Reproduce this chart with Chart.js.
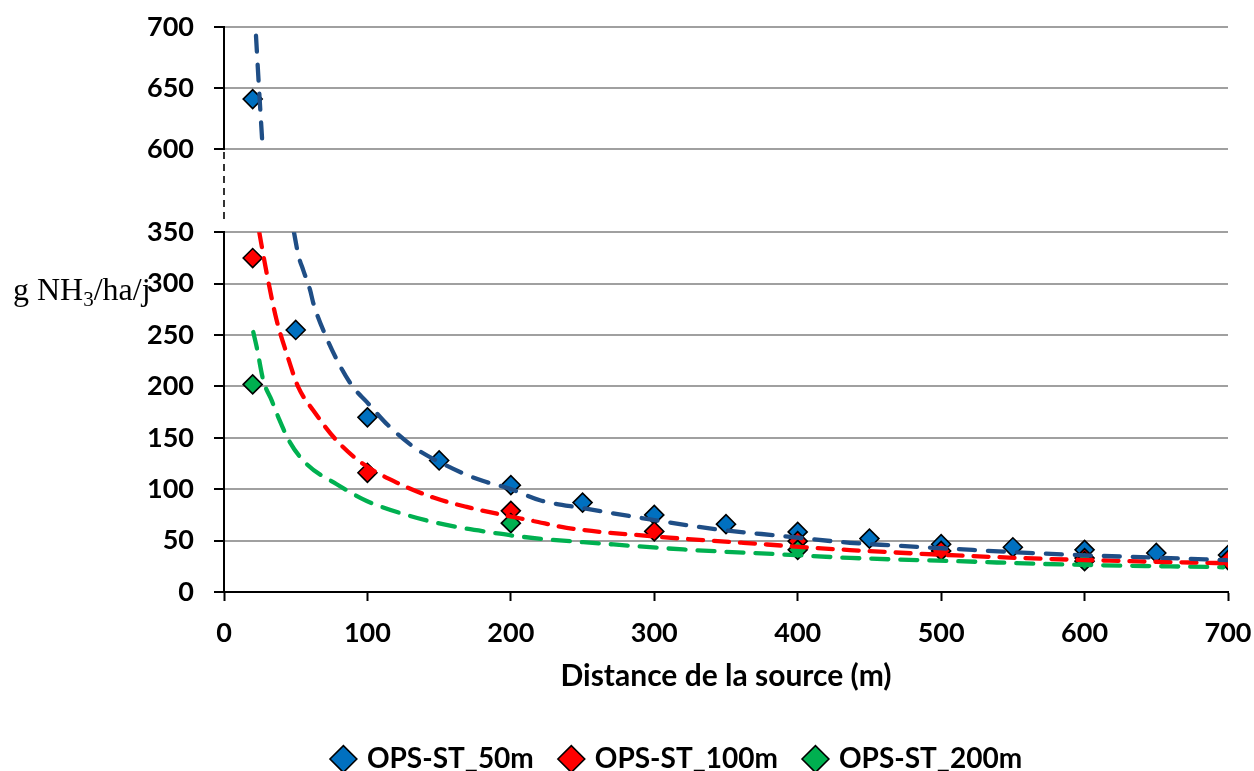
<!DOCTYPE html>
<html>
<head>
<meta charset="utf-8">
<script src="https://cdn.jsdelivr.net/npm/chart.js@4/dist/chart.umd.min.js"></script>
<style>
html,body{margin:0;padding:0;background:#fff;}
#wrap{width:1254px;height:771px;position:relative;}
canvas{display:block;}
</style>
</head>
<body>
<div id="wrap"><canvas id="c" width="1254" height="771"></canvas></div>
<script>
// ---- Data ----
const seriesNames = ['OPS-ST_50m', 'OPS-ST_100m', 'OPS-ST_200m'];
const dist50 = [20, 50, 100, 150, 200, 250, 300, 350, 400, 450, 500, 550, 600, 650, 700];
const vals50 = [641, 255, 170, 128, 104, 87, 75, 66, 58.5, 52, 46.5, 43.5, 41, 38, 36];
const dist100 = [20, 100, 200, 300, 400, 500, 600, 700];
const vals100 = [325, 116, 79, 59, 49.5, 40, 33, 31];
const dist200 = [20, 200, 400, 600];
const vals200 = [202, 67, 41, 30];

// dashed trend curves
const trend50X = [22.3, 24.4, 27, 48.8, 51.8, 55.3, 60, 62.3, 71.6, 82.1, 90.2, 99.5, 114.6, 134.4, 153, 168, 180.8, 199.4, 220.3, 250.5, 297, 343.5, 390, 436.4, 466.7, 515.5, 585.2, 654.9, 699];
const trend50Y = [693, 650, 600, 350, 328, 313, 294, 281, 247, 217, 199, 185, 162, 139, 124.5, 114.7, 108, 100.5, 89.3, 81.5, 70.7, 61, 54.4, 47.9, 45.3, 41.4, 36.5, 33.2, 31];
const trend100X = [24.6, 29.8, 36.7, 43.7, 51.8, 62.3, 78.6, 97.1, 120.4, 146, 169.2, 192.4, 215.7, 238.9, 297, 362, 413.2, 436.4, 510.8, 573.6, 673.5, 700];
const trend100Y = [350, 310, 264.5, 232, 199.3, 176.6, 147.3, 124.5, 106.5, 91.9, 82.8, 75.6, 69.1, 62.5, 54.4, 47.9, 42.8, 40.8, 35.6, 32.2, 28.7, 28];
const trend200X = [20.4, 22.8, 27.4, 33.3, 37.9, 46, 57.6, 78.6, 99.5, 129.7, 157.6, 192.4, 204, 227, 250.5, 320.2, 390, 436.4, 510.8, 585.2, 696.7];
const trend200Y = [253, 238.4, 205.9, 186.3, 170, 145.6, 124.5, 104.9, 88.6, 74, 64.5, 56.7, 54.4, 51, 48.5, 41.4, 36.5, 33.2, 30, 26.8, 24.1];

// axis ranges / ticks (broken axis: lower part and upper part)
const xTicks = [0, 100, 200, 300, 400, 500, 600, 700];
const yLowerTicks = [0, 50, 100, 150, 200, 250, 300, 350];
const yUpperTicks = [600, 650, 700];
const breakMarkX = [0, 0];          // dashed axis segment across the break
const breakMarkY = [0.16, 0.97];    // fraction of the break band
const yLabelParts = ['g NH', '3', '/ha/j'];
const xTitle = 'Distance de la source (m)';

// ---- helpers ----
const BREAK_LOW = yLowerTicks[yLowerTicks.length - 1];
const BREAK_HIGH = yUpperTicks[0];
function pts(xs, ys, pred) {
  const out = [];
  xs.forEach((x, i) => { if (!pred || pred(ys[i])) out.push({x: x, y: ys[i]}); });
  return out;
}
const isLow = v => v <= BREAK_LOW;
const isHigh = v => v >= BREAK_HIGH;

const colBlue = '#0070C0', colRed = '#FF0000', colGreen = '#00B050', colBlueLine = '#1F4E86';

function markerDs(label, data, fill, axis, order) {
  return {
    type: 'scatter', label: label, data: data, yAxisID: axis,
    pointStyle: 'rectRot', pointRadius: 9.5, pointHoverRadius: 9.5,
    backgroundColor: fill, borderColor: '#000', borderWidth: 1.6,
    showLine: false, order: order
  };
}
function trendDs(label, data, color, axis, dash, width) {
  return {
    type: 'scatter', label: label, data: data, yAxisID: axis,
    showLine: true, pointRadius: 0, pointHoverRadius: 0,
    borderColor: color, backgroundColor: color, borderWidth: width || 4.3,
    borderDash: dash, borderCapStyle: 'round',
    cubicInterpolationMode: 'monotone', fill: false, order: -1
  };
}

const fitW = s => { s.width = 96; s.paddingTop = 0; s.paddingBottom = 0; };
const tickFont = {family: 'Lato', weight: 'bold', size: 27};

const yLabelPlugin = {
  id: 'yLabel',
  afterDraw(chart) {
    const c = chart.ctx;
    c.save();
    c.fillStyle = '#000';
    c.textBaseline = 'alphabetic';
    let x = 13; const base = 300;
    c.font = '32px "Liberation Serif"';
    c.fillText(yLabelParts[0], x, base); x += c.measureText(yLabelParts[0]).width;
    c.font = '21px "Liberation Serif"';
    c.fillText(yLabelParts[1], x, base + 6); x += c.measureText(yLabelParts[1]).width;
    c.font = '32px "Liberation Serif"';
    c.fillText(yLabelParts[2], x, base);
    c.restore();
  }
};

const breakDs = trendDs('break', pts(breakMarkX, breakMarkY), '#000', 'yGap', [7, 5], 1.6);
breakDs.borderCapStyle = 'butt';
breakDs.clip = false;
breakDs.cubicInterpolationMode = 'default';

new Chart(document.getElementById('c'), {
  type: 'scatter',
  data: {
    datasets: [
      markerDs(seriesNames[0], pts(dist50, vals50, isLow), colBlue, 'y', 2),
      markerDs(seriesNames[1], pts(dist100, vals100, isLow), colRed, 'y', 1),
      markerDs(seriesNames[2], pts(dist200, vals200, isLow), colGreen, 'y', 0),
      markerDs(seriesNames[0] + ' (haut)', pts(dist50, vals50, isHigh), colBlue, 'yTop', 2),
      trendDs('t50', pts(trend50X, trend50Y, isLow), colBlueLine, 'y', [16, 13]),
      trendDs('t50h', pts(trend50X, trend50Y, isHigh), colBlueLine, 'yTop', [16, 13]),
      trendDs('t100', pts(trend100X, trend100Y, isLow), colRed, 'y', [15, 11]),
      trendDs('t200', pts(trend200X, trend200Y, isLow), colGreen, 'y', [17, 12]),
      breakDs
    ]
  },
  options: {
    responsive: false,
    animation: false,
    devicePixelRatio: 1,
    layout: {padding: {left: 128, right: 26, top: 27, bottom: -12}},
    plugins: {
      tooltip: {enabled: false},
      legend: {
        position: 'bottom',
        labels: {
          filter: item => item.datasetIndex < 3,
          sort: (a, b) => a.datasetIndex - b.datasetIndex,
          usePointStyle: true, boxWidth: 19, boxHeight: 19,
          color: '#000', padding: 28,
          font: {family: 'Lato', weight: 'bold', size: 28}
        }
      }
    },
    scales: {
      x: {
        type: 'linear', min: 0, max: 700,
        afterBuildTicks: s => { s.ticks = xTicks.map(v => ({value: v})); },
        afterFit: s => { s.paddingLeft = 0; s.paddingRight = 0; s.height = 125; },
        grid: {drawOnChartArea: false, drawTicks: true, tickLength: 9, tickColor: '#000', tickWidth: 2},
        border: {color: '#000', width: 2},
        ticks: {color: '#000', font: {family: 'Lato', weight: 'bold', size: 27, lineHeight: 1}, padding: 19, maxRotation: 0, autoSkip: false},
        title: {display: true, text: xTitle, color: '#000',
                font: {family: 'Lato', weight: 'bold', size: 30}, padding: {top: 0, bottom: 23}}
      },
      y: {
        type: 'linear', position: 'left', stack: 'ys', stackWeight: 359,
        min: 0, max: BREAK_LOW,
        afterBuildTicks: s => { s.ticks = yLowerTicks.map(v => ({value: v})); },
        afterFit: fitW,
        grid: {color: '#A0A0A0', lineWidth: 2, tickLength: 10, tickColor: '#000', tickWidth: 2},
        border: {color: '#000', width: 2},
        ticks: {color: '#000', font: tickFont, padding: 20, autoSkip: false}
      },
      yGap: {
        type: 'linear', position: 'left', stack: 'ys', stackWeight: 83,
        min: 0, max: 1,
        afterFit: fitW,
        grid: {display: false},
        ticks: {display: false},
        border: {display: false}
      },
      yTop: {
        type: 'linear', position: 'left', stack: 'ys', stackWeight: 122,
        min: BREAK_HIGH, max: yUpperTicks[yUpperTicks.length - 1],
        afterBuildTicks: s => { s.ticks = yUpperTicks.map(v => ({value: v})); },
        afterFit: fitW,
        grid: {color: '#A0A0A0', lineWidth: 2, tickLength: 10, tickColor: '#000', tickWidth: 2},
        border: {color: '#000', width: 2},
        ticks: {color: '#000', font: tickFont, padding: 20, autoSkip: false}
      }
    }
  },
  plugins: [yLabelPlugin]
});
</script>
</body>
</html>
